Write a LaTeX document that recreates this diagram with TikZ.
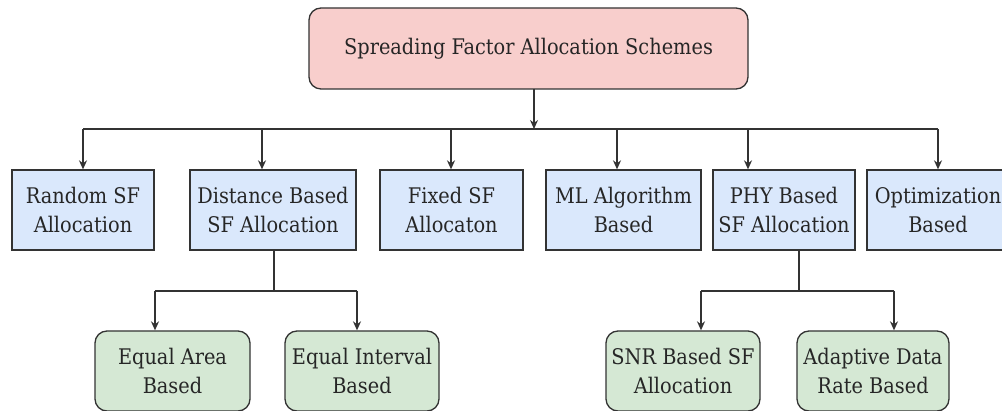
\documentclass[tikz,border=0pt]{standalone}
\usepackage{fontspec}
\setmainfont{DejaVu Serif Condensed}
\usetikzlibrary{arrows.meta}
\definecolor{pinkfill}{HTML}{F8CECC}
\definecolor{bluefill}{HTML}{DAE8FC}
\definecolor{greenfill}{HTML}{D5E8D4}
\definecolor{edge}{HTML}{333333}
\begin{document}
\begin{tikzpicture}[x=1pt,y=-1pt,
  box/.style={draw=edge,line width=1.3pt,align=center,inner sep=0pt,
    font=\fontsize{21.5}{29}\selectfont,text=black!85},
  rootbox/.style={box,fill=pinkfill,rounded corners=12pt,minimum width=439pt,minimum height=81pt},
  catbox/.style={box,fill=bluefill,minimum height=80pt},
  subbox/.style={box,fill=greenfill,rounded corners=12pt,minimum height=80pt},
  conn/.style={draw=edge,line width=1.3pt},
  arr/.style={conn,-{Stealth[length=9pt,width=8pt]}}]
\useasboundingbox (0,0) rectangle (1002,411);
\clip (0,0) rectangle (1002,411);
\node[rootbox] (root) at (528.5,48.5) {Spreading Factor Allocation Schemes};
\node[catbox,minimum width=142pt] (rand) at (83,210) {Random SF\\Allocation};
\node[catbox,minimum width=166pt] (dist) at (273,210) {Distance Based\\SF Allocation};
\node[catbox,minimum width=143pt] (fixed) at (451.5,210) {Fixed SF\\Allocaton};
\node[catbox,minimum width=155pt] (ml) at (623.5,210) {ML Algorithm\\Based};
\node[catbox,minimum width=142pt] (phy) at (784,210) {PHY Based\\SF Allocation};
\node[catbox,minimum width=142pt] (opt) at (938,210) {Optimization\\Based};
\node[subbox,minimum width=155pt] (eqa) at (172.5,371) {Equal Area\\Based};
\node[subbox,minimum width=154pt] (eqi) at (362,371) {Equal Interval\\Based};
\node[subbox,minimum width=154pt] (snr) at (683,371) {SNR Based SF\\Allocation};
\node[subbox,minimum width=152pt] (adr) at (873,371) {Adaptive Data\\Rate Based};
% top bus
\coordinate (rs) at (534,89);
\coordinate (bj) at (534,129);
\coordinate (b1) at (83,129);
\coordinate (b2) at (262,129);
\coordinate (b3) at (451,129);
\coordinate (b4) at (617,129);
\coordinate (b5) at (748,129);
\coordinate (b6) at (938,129);
\draw[arr] (rs) -- (bj);
\draw[conn] (b1) -- (b6);
\draw[arr] (b1) -- (b1 |- rand.north);
\draw[arr] (b2) -- (b2 |- dist.north);
\draw[arr] (b3) -- (b3 |- fixed.north);
\draw[arr] (b4) -- (b4 |- ml.north);
\draw[arr] (b5) -- (b5 |- phy.north);
\draw[arr] (b6) -- (b6 |- opt.north);
% distance sub bus
\coordinate (dj) at (274,291);
\coordinate (d1) at (155,291);
\coordinate (d2) at (357,291);
\draw[conn] (dj |- dist.south) -- (dj);
\draw[conn] (d1) -- (d2);
\draw[arr] (d1) -- (d1 |- eqa.north);
\draw[arr] (d2) -- (d2 |- eqi.north);
% phy sub bus
\coordinate (pj) at (799,291);
\coordinate (p1) at (701,291);
\coordinate (p2) at (894,291);
\draw[conn] (pj |- phy.south) -- (pj);
\draw[conn] (p1) -- (p2);
\draw[arr] (p1) -- (p1 |- snr.north);
\draw[arr] (p2) -- (p2 |- adr.north);
\end{tikzpicture}
\end{document}
